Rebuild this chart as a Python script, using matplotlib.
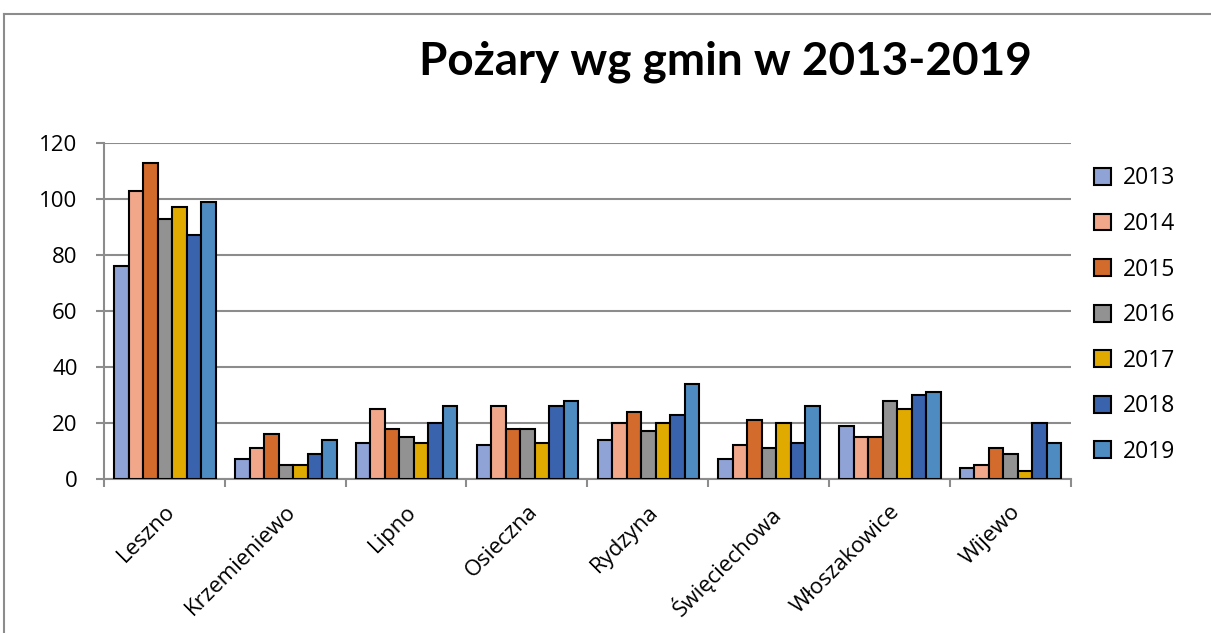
import matplotlib
matplotlib.use("Agg")
import matplotlib.pyplot as plt
import numpy as np
from matplotlib.lines import Line2D

categories = ["Leszno", "Krzemieniewo", "Lipno", "Osieczna", "Rydzyna",
              "Święciechowa", "Włoszakowice", "Wijewo"]
years = ["2013", "2014", "2015", "2016", "2017", "2018", "2019"]
v2013 = [76, 7, 13, 12, 14, 7, 19, 4]
v2014 = [103, 11, 25, 26, 20, 12, 15, 5]
v2015 = [113, 16, 18, 18, 24, 21, 15, 11]
v2016 = [93, 5, 15, 18, 17, 11, 28, 9]
v2017 = [97, 5, 13, 13, 20, 20, 25, 3]
v2018 = [87, 9, 20, 26, 23, 13, 30, 20]
v2019 = [99, 14, 26, 28, 34, 26, 31, 13]
series = [v2013, v2014, v2015, v2016, v2017, v2018, v2019]
colors = ["#8FA3D6", "#F0A78A", "#D36B2C", "#929292", "#E0AA00", "#3A63AE", "#4D8BC0"]

plt.rcParams['font.family'] = ['Open Sans', 'DejaVu Sans']

W, H = 1211, 633
fig = plt.figure(figsize=(W/100, H/100), dpi=100)
ax = fig.add_axes([104/W, 1-479/H, (1070.5-104)/W, (479-143)/H])

n = len(series)
x = np.arange(len(categories))
bw = 0.12
for i, (vals, c, y) in enumerate(zip(series, colors, years)):
    ax.bar(x + (i - (n-1)/2) * bw + 0.005, vals, width=bw, color=c, edgecolor="black",
           linewidth=1.5, label=y, zorder=3)

ax.set_xlim(-0.5, len(categories) - 0.5)
ax.set_ylim(0, 120)
ax.set_yticks(range(0, 121, 20))
ax.yaxis.grid(True, color="#8c8c8c", linewidth=1.5, zorder=0)
ax.set_axisbelow(True)
for s in ["top", "right"]:
    ax.spines[s].set_visible(False)
for s in ["left", "bottom"]:
    ax.spines[s].set_color("#8c8c8c")
    ax.spines[s].set_linewidth(1.5)
ax.tick_params(axis="y", labelsize=16, length=6, color="#8c8c8c", width=1.5, pad=13)
ax.set_xticks(x)
ax.set_xticklabels(categories, rotation=45, ha="right", rotation_mode="anchor", fontsize=16)
ax.tick_params(axis="x", which="major", length=0, pad=16)
ax.set_xticks(np.arange(-0.5, len(categories)), minor=True)
ax.tick_params(axis="x", which="minor", length=6, color="#8c8c8c", width=1.5)

fig.text(725/W, 1-62/H, "Pożary wg gmin w 2013-2019", fontsize=33,
         fontweight="bold", ha="center", va="center", family=["Lato", "DejaVu Sans"])

leg = ax.legend(loc="upper left", bbox_to_anchor=(1.01, 0.971), frameon=False,
                fontsize=16.5, handlelength=0.75, handleheight=0.75,
                labelspacing=0.94, handletextpad=0.5, borderaxespad=0.2)
for h in leg.legend_handles:
    h.set_linewidth(1.5)

fig.add_artist(Line2D([4/W, 1], [1-14/H, 1-14/H], color="#8c8c8c", linewidth=1.5))
fig.add_artist(Line2D([4/W, 4/W], [0, 1-14/H], color="#8c8c8c", linewidth=1.5))

fig.savefig("out.png", dpi=100)
